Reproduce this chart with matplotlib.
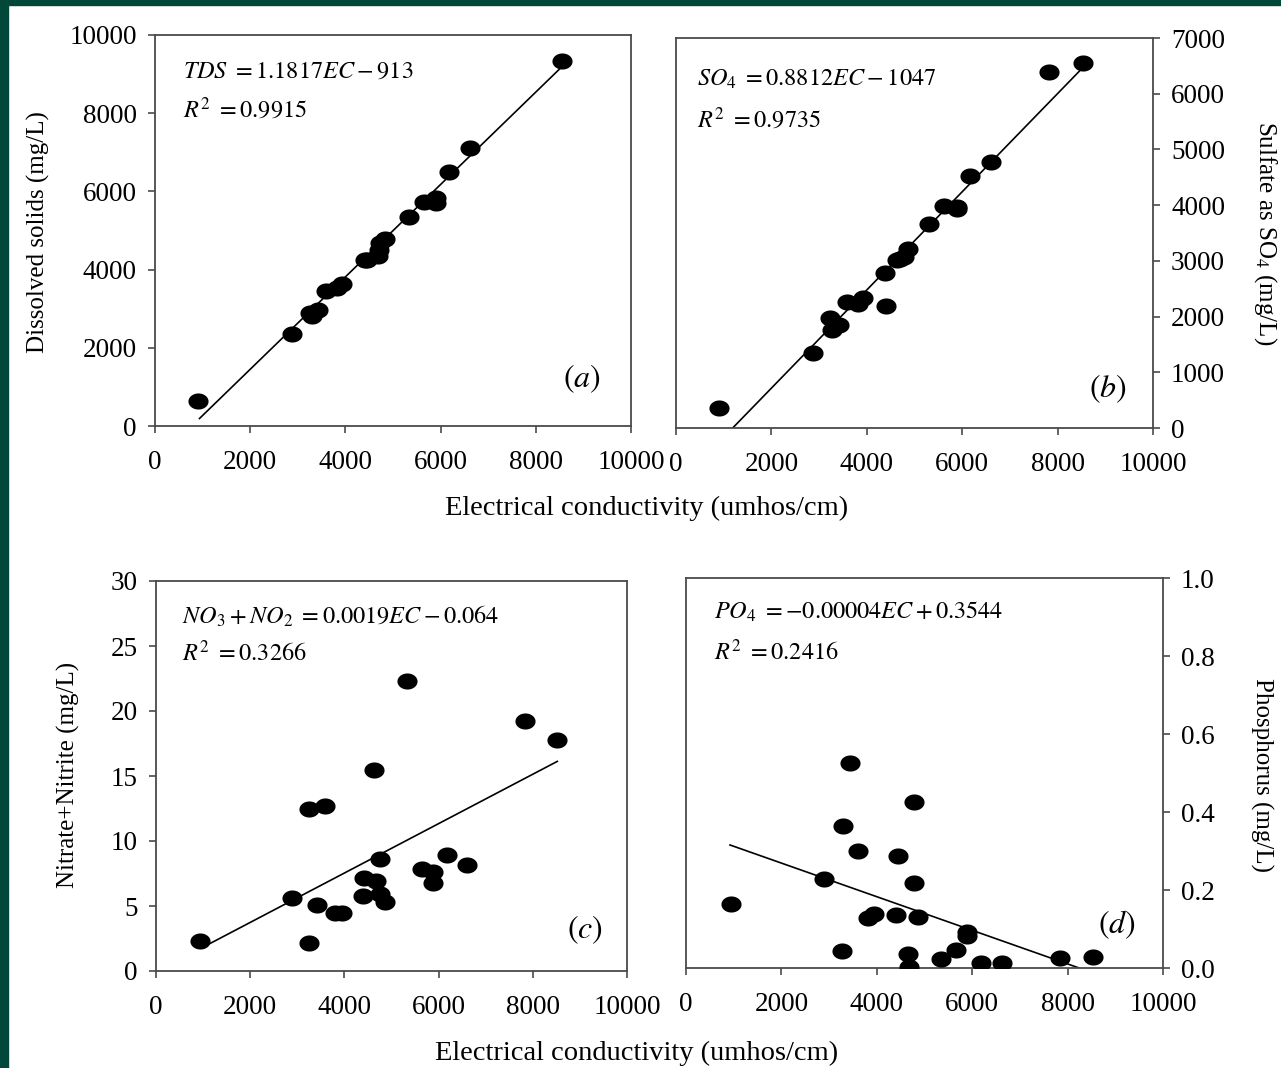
import numpy as np
import matplotlib
matplotlib.use("Agg")
import matplotlib.pyplot as plt
from matplotlib.path import Path
from matplotlib.patches import Rectangle

plt.rcParams['font.family'] = ['Liberation Serif', 'DejaVu Serif']
plt.rcParams['mathtext.fontset'] = 'stix'

# ---------------- data ----------------
ec_a = [911, 2873, 3258, 3294, 3420, 3588, 3819, 3924, 4414, 4450, 4681, 4700, 4730,
        4842, 5333, 5641, 5907, 5907, 6180, 6608, 8549]
tds_a = [650, 2353, 2882, 2813, 2967, 3452, 3521, 3623, 4245, 4250, 4356, 4500, 4672,
         4783, 5353, 5721, 5840, 5695, 6488, 7102, 9335]

ec_b = [909, 2867, 3266, 3231, 3419, 3580, 3824, 3929, 4405, 4384, 4630, 4700, 4789,
        4873, 5314, 5622, 5888, 5900, 6168, 6602, 7810, 8532]
so4_b = [359, 1347, 1767, 1983, 1857, 2263, 2222, 2335, 2186, 2784, 3012, 3040, 3072,
         3204, 3653, 3988, 3970, 3930, 4527, 4767, 6395, 6557]

ec_c = [934, 3255, 2881, 3412, 3255, 3588, 3800, 3942, 4388, 4423, 4671, 4628, 4756,
        4756, 4862, 5322, 5641, 5888, 5888, 6172, 6596, 7834, 8507]
no3_c = [2.30, 2.13, 5.58, 5.07, 12.47, 12.72, 4.43, 4.43, 5.76, 7.12, 6.96, 15.43, 8.58,
         5.89, 5.33, 22.32, 7.88, 7.63, 6.79, 8.91, 8.12, 19.25, 17.74]

ec_d = [937, 2893, 3264, 3285, 3438, 3612, 3822, 3948, 4403, 4451, 4648, 4682, 4786,
        4786, 4856, 5346, 5654, 5884, 5895, 6184, 6618, 7841, 8526]
po4_d = [0.163, 0.229, 0.043, 0.364, 0.526, 0.299, 0.127, 0.138, 0.135, 0.287, 0.037,
         0.002, 0.426, 0.217, 0.131, 0.022, 0.047, 0.092, 0.082, 0.014, 0.014, 0.026, 0.028]

# regression lines: (slope, intercept, x_start, x_end)
fit_a = (1.1817, -913, 934, 8530)
fit_b = (0.8812, -1047, 1188, 8490)
fit_c = (0.0019, -0.064, 1076, 8520)
fit_d = (-0.0000431, 0.3552, 922, 8240)

eq_a = [r'$TDS\ = 1.1817EC - 913$', r'$R^2\ = 0.9915$']
eq_b = [r'$SO_4\ = 0.8812EC - 1047$', r'$R^2\ = 0.9735$']
eq_c = [r'$NO_3 + NO_2\ = 0.0019EC - 0.064$', r'$R^2\ = 0.3266$']
eq_d = [r'$PO_4\ = -0.00004EC + 0.3544$', r'$R^2\ = 0.2416$']

xticks = [0, 2000, 4000, 6000, 8000, 10000]
yticks_a = [0, 2000, 4000, 6000, 8000, 10000]
yticks_b = [0, 1000, 2000, 3000, 4000, 5000, 6000, 7000]
yticks_c = [0, 5, 10, 15, 20, 25, 30]
yticks_d = [0.0, 0.2, 0.4, 0.6, 0.8, 1.0]

# ---------------- figure ----------------
W, H = 1281, 1068
fig = plt.figure(figsize=(W / 100, H / 100), dpi=100)
fig.patch.set_facecolor('white')
green = '#01473a'
fig.patches.append(Rectangle((0, 1 - 5 / H), 1, 5 / H, transform=fig.transFigure,
                             color=green, zorder=-10))
fig.patches.append(Rectangle((0, 0), 8 / W, 1, transform=fig.transFigure,
                             color=green, zorder=-10))


def rect(l, r, t, b):
    return [l / W, 1 - b / H, (r - l) / W, (b - t) / H]


t = np.linspace(0, 2 * np.pi, 60)
ell = Path(np.column_stack([1.25 * np.cos(t), np.sin(t)]), closed=True)

spine_col = '#4a4a4a'
TICK = 19.5


def style(ax, right=False):
    for s in ax.spines.values():
        s.set_color(spine_col)
        s.set_linewidth(1.3)
    ax.tick_params(direction='out', length=5, width=1.2, color=spine_col,
                   labelsize=TICK)
    ax.tick_params(axis='x', pad=12)
    ax.tick_params(axis='y', pad=8)
    if right:
        ax.yaxis.tick_right()
        ax.yaxis.set_label_position('right')


def panel(ax, x, y, fit, eq, lab, eqpos, labpos, ylim, yticks, right, yfmt=None):
    ax.scatter(x, y, s=210, marker=ell, color='black', zorder=3, linewidths=0)
    m, c, x0, x1 = fit
    xs = np.array([x0, x1])
    ax.plot(xs, m * xs + c, color='black', lw=1.2, zorder=2)
    ax.set_xlim(0, 10000)
    ax.set_ylim(*ylim)
    ax.set_xticks(xticks)
    ax.set_yticks(yticks)
    if yfmt:
        ax.set_yticklabels([yfmt.format(v) for v in yticks])
    style(ax, right)
    ax.text(eqpos[0], eqpos[1], eq[0], transform=ax.transAxes, fontsize=17.5,
            va='center', ha='left')
    ax.text(eqpos[0], eqpos[2], eq[1], transform=ax.transAxes, fontsize=17.5,
            va='center', ha='left')
    ax.text(labpos[0], labpos[1], lab, transform=ax.transAxes, fontsize=23,
            va='center', ha='center')


ax_a = fig.add_axes(rect(155, 631, 35, 426))
panel(ax_a, ec_a, tds_a, fit_a, eq_a, r'$(a)$', (0.059, 0.905, 0.81), (0.897, 0.12),
      (0, 10000), yticks_a, False)
ax_b = fig.add_axes(rect(676, 1153, 38, 428))
panel(ax_b, ec_b, so4_b, fit_b, eq_b, r'$(b)$', (0.044, 0.893, 0.79), (0.906, 0.10),
      (0, 7000), yticks_b, True)
ax_c = fig.add_axes(rect(156, 627, 581, 971))
panel(ax_c, ec_c, no3_c, fit_c, eq_c, r'$(c)$', (0.055, 0.91, 0.815), (0.911, 0.105),
      (0, 30), yticks_c, False)
ax_d = fig.add_axes(rect(686, 1163, 578, 968))
panel(ax_d, ec_d, po4_d, fit_d, eq_d, r'$(d)$', (0.059, 0.913, 0.808), (0.904, 0.11),
      (0, 1.0), yticks_d, True, yfmt='{:.1f}')

LAB = 18
XLAB = 20.5
fig.text(38 / W, 1 - 232 / H, 'Dissolved solids (mg/L)', rotation=90, fontsize=LAB,
         ha='center', va='center')
fig.text(1265 / W, 1 - 233 / H, r'Sulfate as SO$_4$ (mg/L)', rotation=270, fontsize=LAB,
         ha='center', va='center')
fig.text(68 / W, 1 - 775 / H, 'Nitrate+Nitrite (mg/L)', rotation=90, fontsize=LAB,
         ha='center', va='center')
fig.text(1262 / W, 1 - 775 / H, 'Phosphorus (mg/L)', rotation=270, fontsize=LAB,
         ha='center', va='center')
fig.text(647 / W, 1 - 508 / H, 'Electrical conductivity (umhos/cm)', fontsize=XLAB,
         ha='center', va='center')
fig.text(637 / W, 1 - 1053 / H, 'Electrical conductivity (umhos/cm)', fontsize=XLAB,
         ha='center', va='center')

fig.savefig('out.png', dpi=100, facecolor=fig.get_facecolor())
